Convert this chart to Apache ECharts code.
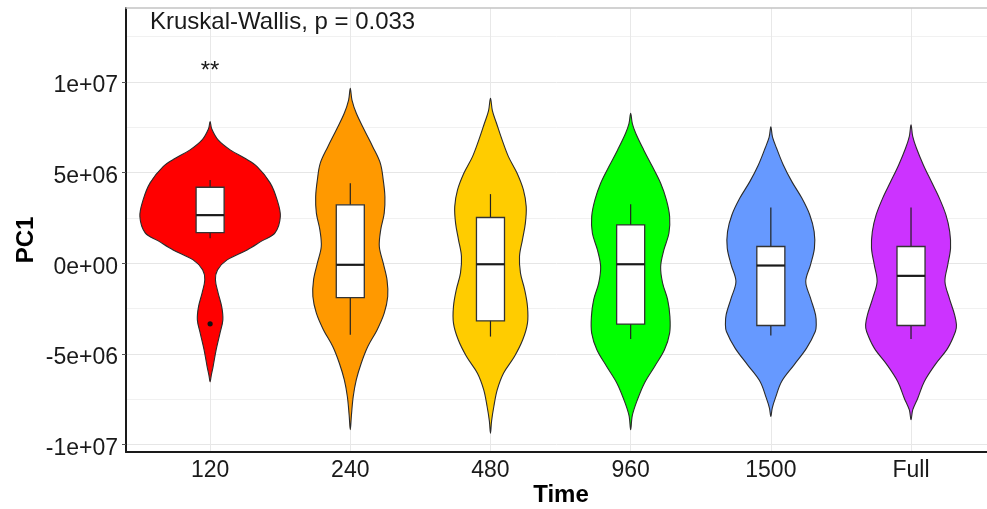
<!DOCTYPE html>
<html>
<head>
<meta charset="utf-8">
<title>PC1 by Time</title>
<script src="https://cdn.jsdelivr.net/npm/echarts@6.0.0/dist/echarts.min.js"></script>
<style>
	html, body { margin: 0; padding: 0; background: #fff; }
	#chart { width: 987px; height: 509px; }
</style>
</head>
<body>
<div id="chart"></div>
<script>
// categories on the x axis
var categories = ['120', '240', '480', '960', '1500', 'Full'];
var fillColors = ['#ff0000', '#ff9900', '#ffcc00', '#00ff00', '#6699ff', '#cc33ff'];

// box plot stats (lower whisker, Q1, median, Q3, upper whisker)
var boxLow  = [1.38e6, -3.95e6, -4.05e6, -4.19e6, -3.99e6, -4.18e6];
var boxQ1   = [1.69e6, -1.90e6, -3.18e6, -3.36e6, -3.44e6, -3.44e6];
var boxMed  = [2.65e6, -0.09e6, -0.06e6, -0.06e6, -0.13e6, -0.70e6];
var boxQ3   = [4.19e6,  3.22e6,  2.52e6,  2.11e6,  0.92e6,  0.92e6];
var boxHigh = [4.59e6,  4.41e6,  3.81e6,  3.25e6,  3.07e6,  3.07e6];
var outliers = [[0, -3.35e6]];   // [group index, value]

// significance marks
var sigLabels = ['**', '', '', '', '', ''];
var sigY = 10.6e6;
var testLabel = 'Kruskal-Wallis, p = 0.033';

// y tick labels
var yTickValues = [-1e7, -5e6, 0, 5e6, 1e7];
var yTickLabels = ['-1e+07', '-5e+06', '0e+00', '5e+06', '1e+07'];
var yMinorValues = [-7.5e6, -2.5e6, 2.5e6, 7.5e6, 12.5e6];

// violin outlines: y level and half width (category units)
var v120Y = [7.81e6, 7.40e6, 6.80e6, 6.25e6, 5.80e6, 5.33e6, 4.43e6, 3.49e6, 2.57e6, 1.67e6, 1.23e6, 0.73e6, 0.18e6, -0.37e6, -0.92e6, -1.64e6, -2.41e6, -3.13e6, -3.84e6, -4.78e6, -5.72e6, -6.20e6, -6.55e6];
var v120W = [0, 0.012, 0.057, 0.143, 0.245, 0.335, 0.428, 0.478, 0.501, 0.463, 0.370, 0.264, 0.121, 0.053, 0.038, 0.057, 0.083, 0.091, 0.071, 0.043, 0.021, 0.008, 0];

var v240Y = [9.65e6, 9.00e6, 8.27e6, 7.35e6, 6.43e6, 5.52e6, 4.59e6, 3.67e6, 2.76e6, 1.84e6, 0.92e6, 0, -0.92e6, -1.84e6, -2.76e6, -3.67e6, -4.60e6, -5.52e6, -6.43e6, -7.36e6, -8.40e6, -9.19e6];
var v240W = [0, 0.012, 0.043, 0.100, 0.160, 0.214, 0.235, 0.247, 0.242, 0.217, 0.207, 0.235, 0.262, 0.267, 0.242, 0.192, 0.125, 0.078, 0.043, 0.021, 0.008, 0];

var v480Y = [9.10e6, 8.40e6, 7.72e6, 6.80e6, 5.88e6, 4.96e6, 4.04e6, 3.12e6, 2.21e6, 1.29e6, 0.37e6, -0.55e6, -1.47e6, -2.39e6, -3.31e6, -4.23e6, -5.15e6, -6.07e6, -6.99e6, -7.91e6, -8.70e6, -9.38e6];
var v480W = [0, 0.014, 0.043, 0.083, 0.128, 0.190, 0.235, 0.255, 0.249, 0.228, 0.207, 0.214, 0.244, 0.264, 0.264, 0.230, 0.171, 0.093, 0.048, 0.024, 0.008, 0];

var v960Y = [8.27e6, 7.70e6, 7.17e6, 6.25e6, 5.33e6, 4.41e6, 3.49e6, 2.57e6, 1.65e6, 0.73e6, -0.19e6, -1.10e6, -2.02e6, -2.95e6, -3.86e6, -4.78e6, -5.70e6, -6.62e6, -7.54e6, -8.40e6, -9.19e6];
var v960W = [0, 0.012, 0.036, 0.093, 0.155, 0.214, 0.255, 0.278, 0.273, 0.237, 0.214, 0.228, 0.264, 0.280, 0.278, 0.241, 0.171, 0.098, 0.048, 0.012, 0];

var v1500Y = [7.53e6, 6.95e6, 6.34e6, 5.42e6, 4.50e6, 3.59e6, 2.66e6, 1.74e6, 0.83e6, -0.09e6, -1.01e6, -1.93e6, -2.85e6, -3.40e6, -3.77e6, -4.69e6, -5.61e6, -6.53e6, -7.45e6, -8.00e6, -8.46e6];
var v1500W = [0, 0.012, 0.041, 0.089, 0.150, 0.221, 0.278, 0.309, 0.311, 0.283, 0.249, 0.283, 0.319, 0.324, 0.317, 0.255, 0.166, 0.077, 0.032, 0.010, 0];

var vFullY = [7.63e6, 7.00e6, 6.34e6, 5.42e6, 4.50e6, 3.59e6, 2.66e6, 1.74e6, 0.83e6, -0.09e6, -1.01e6, -1.93e6, -2.85e6, -3.40e6, -3.77e6, -4.69e6, -5.61e6, -6.53e6, -7.45e6, -8.10e6, -8.64e6];
var vFullW = [0, 0.012, 0.039, 0.088, 0.145, 0.202, 0.249, 0.276, 0.282, 0.262, 0.242, 0.273, 0.311, 0.324, 0.317, 0.262, 0.171, 0.095, 0.048, 0.012, 0];

var violinY = [v120Y, v240Y, v480Y, v960Y, v1500Y, vFullY];
var violinW = [v120W, v240W, v480W, v960W, v1500W, vFullW];

var boxHalf = 0.1;
var textFont = '"Liberation Sans", Arial, Helvetica, sans-serif';

var chart = echarts.init(document.getElementById('chart'));

function renderViolin(params, api) {
	var i = params.dataIndex;
	var xc = i + 1;
	var ys = violinY[i], ws = violinW[i];
	var pts = [];
	for (var k = 0; k < ys.length; k++) {
		pts.push(api.coord([xc - ws[k], ys[k]]));
	}
	for (var k = ys.length - 1; k >= 0; k--) {
		if (ws[k] === 0) continue;
		pts.push(api.coord([xc + ws[k], ys[k]]));
	}
	var children = [];
	children.push({
		type: 'polygon',
		shape: { points: pts, smooth: 0.35 },
		style: { fill: fillColors[i], stroke: '#2b2b2b', lineWidth: 1.1 }
	});

	var wTop = api.coord([xc, boxHigh[i]]);
	var wBot = api.coord([xc, boxLow[i]]);
	children.push({
		type: 'line',
		shape: { x1: wTop[0], y1: wTop[1], x2: wBot[0], y2: wBot[1] },
		style: { stroke: '#222', lineWidth: 1.2 }
	});
	var tl = api.coord([xc - boxHalf, boxQ3[i]]);
	var br = api.coord([xc + boxHalf, boxQ1[i]]);
	children.push({
		type: 'rect',
		shape: { x: tl[0], y: tl[1], width: br[0] - tl[0], height: br[1] - tl[1] },
		style: { fill: '#fff', stroke: '#333', lineWidth: 1.3 }
	});
	var ml = api.coord([xc - boxHalf, boxMed[i]]);
	var mr = api.coord([xc + boxHalf, boxMed[i]]);
	children.push({
		type: 'line',
		shape: { x1: ml[0], y1: ml[1], x2: mr[0], y2: mr[1] },
		style: { stroke: '#1a1a1a', lineWidth: 2.2 }
	});

	outliers.forEach(function (o) {
		if (o[0] !== i) return;
		var p = api.coord([xc, o[1]]);
		children.push({
			type: 'circle',
			shape: { cx: p[0], cy: p[1], r: 2.6 },
			style: { fill: '#111' }
		});
	});

	if (sigLabels[i]) {
		var s = api.coord([xc, sigY]);
		children.push({
			type: 'text',
			x: s[0], y: s[1],
			style: { text: sigLabels[i], fontSize: 24, fontFamily: textFont, fill: '#1a1a1a', align: 'center', verticalAlign: 'middle' }
		});
	}
	return { type: 'group', children: children };
}

var option = {
	animation: false,
	backgroundColor: '#fff',
	grid: { left: 126, right: 0, top: 8, bottom: 57 },
	xAxis: [{
		type: 'value',
		min: 0.4,
		max: 6.542,
		axisLine: { onZero: false, lineStyle: { color: '#1a1a1a', width: 2 } },
		axisTick: { show: false, customValues: [1, 2, 3, 4, 5, 6] },
		axisLabel: {
			customValues: [1, 2, 3, 4, 5, 6],
			formatter: function (v) { return categories[Math.round(v) - 1]; },
			fontSize: 23, fontFamily: textFont, color: '#1a1a1a', margin: 7
		},
		splitLine: { show: true, lineStyle: { color: '#e8e8e8', width: 1 } }
	}, {
		type: 'value',
		position: 'top',
		min: 0.4,
		max: 6.542,
		axisLine: { show: true, onZero: false, lineStyle: { color: '#c4c4c4', width: 1.5 } },
		axisTick: { show: false },
		axisLabel: { show: false },
		splitLine: { show: false }
	}],
	yAxis: [{
		type: 'value',
		min: -10.42e6,
		max: 14.08e6,
		axisLine: { show: true, onZero: false, lineStyle: { color: '#1a1a1a', width: 2 } },
		axisTick: { show: true, length: 4, customValues: yTickValues, lineStyle: { color: '#555', width: 1 } },
		axisLabel: {
			customValues: yTickValues,
			formatter: function (v) {
				var k = yTickValues.indexOf(v);
				return k >= 0 ? '{t|' + yTickLabels[k] + '}' : '';
			},
			rich: {
				t: { fontSize: 23, fontFamily: textFont, color: '#1a1a1a', padding: [8, 0, 0, 0] }
			},
			fontSize: 23, fontFamily: textFont, color: '#1a1a1a', margin: 8
		},
		splitLine: { show: true, lineStyle: { color: '#e6e6e6', width: 1 } }
	}, {
		type: 'value',
		position: 'left',
		min: -10.42e6,
		max: 14.08e6,
		axisLine: { show: false },
		axisTick: { show: false, customValues: yMinorValues },
		axisLabel: { show: false, customValues: yMinorValues },
		splitLine: { show: true, lineStyle: { color: '#f1f1f1', width: 1 } }
	}],
	graphic: [{
		type: 'text',
		left: 150,
		top: 10,
		z: 100,
		style: { text: testLabel, fontSize: 24, fontFamily: textFont, fill: '#1a1a1a' }
	}, {
		type: 'text',
		x: 26, y: 240,
		rotation: Math.PI / 2,
		style: { text: 'PC1', fontSize: 24, fontWeight: 'bold', fontFamily: textFont, fill: '#000', align: 'center', verticalAlign: 'middle' }
	}, {
		type: 'text',
		x: 561, y: 495,
		style: { text: 'Time', fontSize: 24, fontWeight: 'bold', fontFamily: textFont, fill: '#000', align: 'center', verticalAlign: 'middle' }
	}],
	series: [{
		type: 'custom',
		xAxisIndex: 0,
		yAxisIndex: 0,
		renderItem: renderViolin,
		data: categories.map(function (c, i) { return [i + 1, boxMed[i]]; }),
		z: 5
	}]
};

chart.setOption(option);
</script>
</body>
</html>
